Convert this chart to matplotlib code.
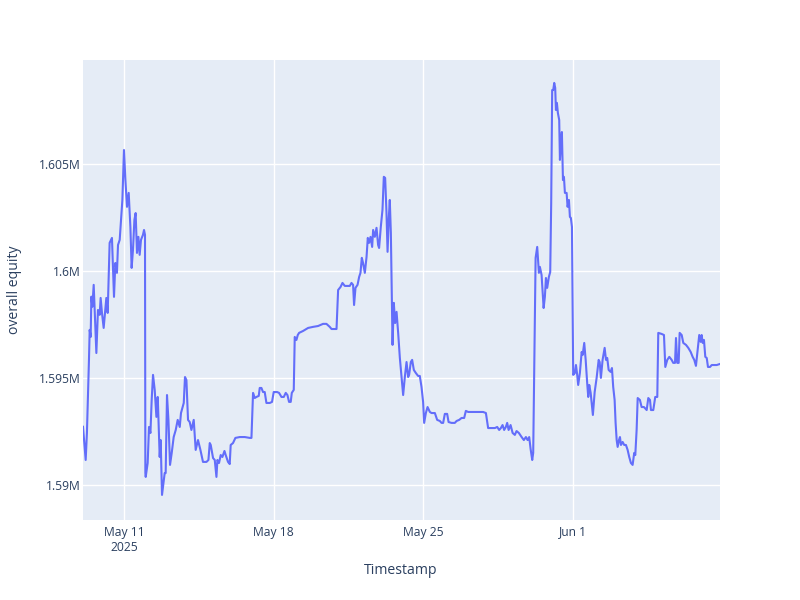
import pandas as pd
import matplotlib.pyplot as plt
import matplotlib.dates as mdates
from matplotlib.ticker import FixedLocator, FixedFormatter

# Equity series: hours after 2025-05-09 00:00 and equity value
hours = [
    2.0, 5.0, 6.4, 8.7, 9.5, 10.6, 11.4, 12.5, 14.0, 15.1, 17.0, 18.8, 20.7, 21.8, 23.3, 25.2,
    28.2, 29.7, 31.9, 33.4, 34.5, 36.8, 38.3, 40.1, 41.3, 43.2, 46.2, 48.0, 49.6, 51.4, 53.3,
    55.2, 56.6, 58.1, 59.7, 61.1, 62.6, 64.2, 65.6, 67.1, 69.3, 70.5, 71.6, 72.0, 72.4, 74.6,
    76.1, 77.7, 79.1, 80.6, 82.5, 84.4, 85.9, 88.1, 89.2, 90.7, 93.7, 94.8, 96.3, 97.9, 99.7,
    101.6, 103.8, 106.1, 108.3, 110.6, 112.0, 115.1, 116.5, 118.1, 119.9, 121.8,
    123.7, 126.3, 128.5, 131.1, 133.8, 136.7, 140.6, 142.8, 144.3, 145.4, 148.0, 149.9, 151.8,
    152.9, 154.7, 156.6, 158.5, 160.8, 162.2, 164.8, 166.7, 167.8, 170.4, 173.1, 178.0, 183.6,
    189.2, 191.1, 192.9, 194.8, 196.7, 199.3, 200.4, 202.3, 204.1, 206.0, 207.9, 211.7, 214.2,
    216.1, 219.9, 222.1, 224.8, 227.4, 229.6, 231.5, 233.3, 235.2, 236.4, 238.6,
    239.7, 241.6, 243.1, 244.6, 249.1, 254.7, 260.3, 265.9, 271.5, 275.3, 279.0, 281.0, 286.6,
    288.4, 291.1, 293.3, 295.9, 301.5, 303.4, 305.2, 306.3, 307.9, 310.2, 312.0, 313.5, 315.0,
    316.4, 318.4, 320.3, 321.7, 323.2, 324.8, 326.6, 327.7, 329.6, 331.5, 333.3, 334.4, 336.3,
    338.2, 339.7, 341.2, 342.7, 343.9, 345.3, 346.4, 347.6, 349.5, 350.9, 352.4, 354.0, 355.8,
    357.7, 359.6, 361.4, 363.3, 365.2, 367.0, 368.1, 370.0, 371.5, 373.4, 375.6, 378.2, 380.1,
    382.0, 383.8, 385.0,
    386.9, 388.8, 391.4, 393.3, 397.0, 399.6, 402.6, 404.5, 406.3, 408.2, 410.8, 412.4, 415.7,
    419.4, 421.4, 424.3, 427.0, 429.9, 431.8, 434.4, 440.0, 445.6, 451.2, 454.3, 456.8, 460.7,
    464.4, 467.0, 469.2, 471.1, 473.0, 474.8, 476.7, 478.2, 479.8, 482.0, 484.3, 486.8, 488.7,
    491.3, 494.4, 496.9, 499.2, 501.1, 502.9, 504.5, 506.3, 507.4,
    510.1, 511.9, 513.8, 514.9, 516.8, 519.1, 520.5, 521.7, 523.1, 525.0, 526.5, 527.6, 528.7,
    529.9, 531.0, 532.1, 532.9, 534.0, 535.1, 536.6, 537.4, 538.5, 539.6, 540.8, 541.9, 543.0,
    544.9, 546.0, 547.5, 548.6, 549.7, 550.9,
    552.3, 554.2, 555.4, 556.8, 557.9, 559.8, 561.8, 562.9, 564.7, 566.3, 568.0, 569.2, 570.3,
    571.9, 574.4, 576.4, 578.6, 580.9, 582.0, 583.4, 585.3, 587.6, 589.1, 590.5, 592.1, 594.3,
    595.8, 597.2, 598.8, 599.9, 601.1, 602.2, 603.7, 604.8, 605.9, 607.8, 609.6, 611.5, 613.4,
    615.2, 617.1, 619.0, 620.8, 622.0, 623.5, 624.7, 627.2, 629.1, 631.7, 634.8, 636.6, 638.5,
    639.6, 642.2, 644.4, 646.7, 647.8, 651.6, 654.2, 655.7, 657.9, 660.2, 662.8, 664.6, 666.6,
    667.7, 669.1, 670.7, 671.8, 674.1, 675.9, 678.9, 681.5, 684.2, 686.4, 688.2, 690.1, 692.0,
    693.8, 695.4, 696.5, 697.7, 699.1, 700.6, 702.2, 703.6, 705.9, 707.8, 711.5, 713.4, 717.1,
]
equity = [
    1592740, 1591190, 1592450, 1595860, 1597260, 1596930, 1598810, 1598340, 1599360, 1598190,
    1596180, 1598190, 1597960, 1598750, 1598050, 1597350, 1598750, 1598050, 1601320, 1601460,
    1601550, 1598800, 1600380, 1599920, 1601220, 1601460, 1603320, 1605650, 1604250, 1603000,
    1603650, 1602060, 1600150, 1600990, 1602390, 1602710, 1600850, 1601600, 1600760, 1601460,
    1601690, 1601920, 1601690, 1590580, 1590400, 1591050, 1592730, 1592450, 1593990, 1595160,
    1594460, 1593200, 1594130, 1591330, 1592120, 1589560, 1590580, 1590580, 1594220, 1593060,
    1590960, 1591520, 1592260, 1592590, 1593060, 1592730, 1593380, 1593850, 1595060, 1594920,
    1593060, 1592960,
    1592590, 1593060, 1591660, 1592120, 1591660, 1591100, 1591100, 1591190, 1591980, 1591890,
    1591280, 1591190, 1590400, 1591190, 1591050, 1591420, 1591330, 1591610, 1591420, 1591100,
    1591000, 1591890, 1591980, 1592220, 1592260, 1592260, 1592220, 1592220, 1594320, 1594080,
    1594130, 1594180, 1594550, 1594550, 1594360, 1594360, 1593850, 1593850, 1593900, 1594360,
    1594360, 1594320, 1594130, 1594130, 1594320, 1594220, 1593900, 1593900, 1594320, 1594460,
    1596930, 1596790, 1597020, 1597120, 1597210, 1597350, 1597400, 1597440, 1597540, 1597540,
    1597400, 1597300, 1597300, 1599120, 1599260, 1599450, 1599310, 1599310, 1599450, 1599360,
    1598420, 1599220, 1599360, 1599730, 1599920, 1600620, 1600380, 1599920, 1600660, 1601550,
    1601320, 1601600, 1601130, 1601920, 1601600, 1602020, 1601220, 1601080, 1602060, 1602860,
    1604400, 1604350, 1602720, 1600900, 1602480, 1603320, 1601780, 1596560, 1598520, 1597580,
    1598100, 1597120, 1595950, 1595060, 1594220, 1595060, 1595760, 1595060, 1595160, 1595760,
    1595860, 1595390, 1595250, 1595110, 1595110, 1594600, 1593900, 1592920,
    1593380, 1593660, 1593430, 1593380, 1593380, 1593060, 1593010, 1592920, 1592920, 1593340,
    1593340, 1592960, 1592920, 1592920, 1593010, 1593060, 1593150, 1593150, 1593480, 1593430,
    1593430, 1593430, 1593430, 1593380, 1592680, 1592680, 1592680, 1592730, 1592590, 1592680,
    1592820, 1592590, 1592730, 1592920, 1592590, 1592820, 1592450, 1592360, 1592540, 1592450,
    1592260, 1592120, 1592260, 1592120, 1592260, 1591700, 1591190, 1591520,
    1600620, 1601130, 1599920, 1600200, 1599820, 1598280, 1598800, 1599680, 1599220, 1599730,
    1599960, 1603180, 1608450, 1608450, 1608780, 1608550, 1607520, 1607850, 1607380, 1607050,
    1605190, 1605980, 1606490, 1604250, 1604400, 1603650, 1603650, 1603000, 1603320, 1602530,
    1602480, 1602060,
    1595160, 1595250, 1595620, 1595160, 1594690, 1595250, 1596230, 1596090, 1596650, 1595860,
    1594780, 1594130, 1594690, 1594320, 1593290, 1594360, 1595020, 1595860, 1595760, 1595020,
    1595860, 1596420, 1595860, 1595950, 1595390, 1595300, 1595480, 1594600, 1593990, 1592920,
    1592120, 1591800, 1592120, 1592260, 1591890, 1592030, 1591890, 1591890, 1591660, 1591330,
    1591050, 1590960, 1591520, 1591420, 1592590, 1594080, 1593990, 1593660, 1593660, 1593520,
    1594080, 1593990, 1593520, 1593520, 1594130, 1594130, 1597120, 1597070, 1597020, 1595530,
    1595860, 1596000, 1595860, 1595720, 1595720, 1596880, 1595720, 1595720, 1597120, 1597020,
    1596650, 1596560, 1596420, 1596230, 1596000, 1595860, 1595580, 1596320, 1597020, 1596700,
    1597020, 1596650, 1596790, 1596000, 1595950, 1595530, 1595530, 1595620, 1595620, 1595620,
    1595670,
]

y_ticks = [1590000, 1595000, 1600000, 1605000]
y_tick_labels = ["1.59M", "1.595M", "1.6M", "1.605M"]
x_ticks = ["2025-05-11", "2025-05-18", "2025-05-25", "2025-06-01"]
x_tick_labels = ["May 11\n2025", "May 18", "May 25", "Jun 1"]

df = pd.DataFrame({
    "Timestamp": pd.Timestamp("2025-05-09") + pd.to_timedelta(hours, unit="h"),
    "overall equity": equity,
})

plt.rcParams['font.family'] = ['Open Sans', 'DejaVu Sans']
text_color = "#2a3f5f"

fig = plt.figure(figsize=(8, 6), dpi=100)
ax = fig.add_axes([83 / 800, 80 / 600, 637 / 800, 460 / 600])
ax.set_facecolor("#E5ECF6")

ax.plot(df["Timestamp"], df["overall equity"], color="#636EFA", linewidth=1.5, zorder=3)

ax.set_xlim(df["Timestamp"].min(), df["Timestamp"].max())
ax.set_ylim(1588390, 1609850)

x_tick_pos = mdates.date2num(pd.to_datetime(x_ticks))
ax.xaxis.set_major_locator(FixedLocator(x_tick_pos))
ax.xaxis.set_major_formatter(FixedFormatter(x_tick_labels))
ax.yaxis.set_major_locator(FixedLocator(y_ticks))
ax.yaxis.set_major_formatter(FixedFormatter(y_tick_labels))

ax.grid(True, color="white", linewidth=1)
ax.set_axisbelow(True)
for s in ax.spines.values():
    s.set_visible(False)
ax.tick_params(axis="both", length=0, labelsize=8.7, labelcolor=text_color)
ax.tick_params(axis="x", pad=4)
ax.tick_params(axis="y", pad=2)

fig.text(401 / 800, 1 - 571 / 600, "Timestamp", ha="center", va="center",
         fontsize=10.1, color=text_color)
fig.text(14 / 800, 1 - 290 / 600, "overall equity", ha="center", va="center",
         rotation=90, fontsize=10.1, color=text_color)

fig.savefig("out.png", dpi=100)
